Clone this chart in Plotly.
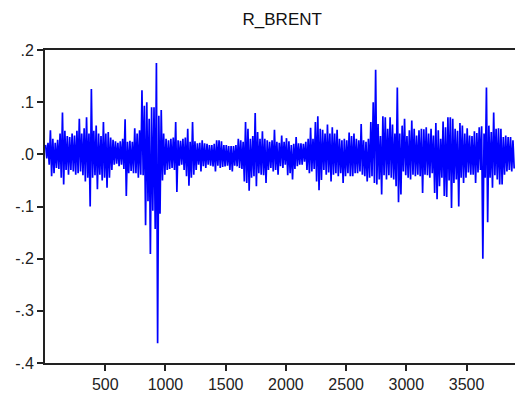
import plotly.graph_objects as go

bin_size = 20
hi = [.018, .022, .046, .030, .022, .028, .040, .080, .045, .035,
      .033, .040, .036, .045, .068, .040, .050, .071, .040, .125,
      .045, .055, .040, .035, .062, .040, .043, .032, .028, .025,
      .022, .025, .030, .067, .024, .026, .024, .050, .040, .046,
      .123, .093, .100, .068, .090, .090, .175, .074, .085, .040,
      .030, .027, .030, .032, .062, .027, .026, .030, .032, .049,
      .024, .062, .025, .021, .022, .027, .021, .020, .018, .018,
      .020, .027, .027, .025, .018, .018, .016, .016, .016, .018,
      .030, .027, .024, .062, .049, .030, .035, .079, .043, .030,
      .044, .030, .027, .024, .027, .047, .024, .022, .036, .024,
      .031, .025, .018, .020, .033, .021, .021, .020, .024, .030,
      .051, .030, .062, .073, .049, .047, .040, .057, .040, .052,
      .040, .047, .030, .027, .030, .027, .042, .035, .040, .030,
      .027, .058, .027, .024, .030, .062, .100, .162, .058, .035,
      .073, .071, .049, .071, .057, .040, .128, .040, .055, .068,
      .035, .046, .065, .049, .036, .046, .049, .048, .052, .040,
      .049, .036, .060, .046, .030, .063, .052, .071, .071, .068,
      .049, .045, .060, .055, .040, .050, .036, .035, .044, .041,
      .052, .054, .040, .128, .055, .043, .080, .049, .050, .049,
      .033, .036, .033, .033, .027]
lo = [-.008, -.020, -.042, -.036, -.026, -.028, -.045, -.058, -.030, -.039,
      -.030, -.033, -.039, -.036, -.033, -.040, -.052, -.045, -.100, -.045,
      -.040, -.067, -.039, -.050, -.045, -.064, -.045, -.030, -.020, -.018,
      -.023, -.020, -.028, -.080, -.036, -.032, -.036, -.036, -.045, -.039,
      -.040, -.136, -.090, -.191, -.108, -.143, -.362, -.114, -.050, -.039,
      -.030, -.028, -.026, -.030, -.072, -.022, -.020, -.030, -.042, -.060,
      -.045, -.039, -.030, -.020, -.033, -.023, -.026, -.020, -.022, -.023,
      -.033, -.022, -.026, -.024, -.023, -.022, -.030, -.033, -.022, -.023,
      -.026, -.028, -.052, -.055, -.070, -.045, -.042, -.061, -.036, -.039,
      -.040, -.055, -.030, -.026, -.033, -.030, -.039, -.023, -.026, -.020,
      -.040, -.036, -.048, -.028, -.023, -.020, -.020, -.014, -.030, -.036,
      -.033, -.028, -.052, -.069, -.049, -.030, -.039, -.035, -.052, -.039,
      -.036, -.042, -.036, -.055, -.042, -.036, -.042, -.042, -.036, -.036,
      -.033, -.039, -.042, -.052, -.045, -.042, -.055, -.058, -.048, -.077,
      -.040, -.048, -.040, -.045, -.048, -.061, -.092, -.077, -.033, -.040,
      -.045, -.048, -.039, -.042, -.039, -.042, -.074, -.039, -.040, -.045,
      -.036, -.074, -.086, -.061, -.045, -.080, -.082, -.050, -.103, -.055,
      -.048, -.100, -.045, -.055, -.045, -.035, -.039, -.039, -.055, -.035,
      -.030, -.200, -.045, -.130, -.045, -.064, -.040, -.048, -.058, -.058,
      -.039, -.033, -.030, -.033, -.027]

x_ticks = [500, 1000, 1500, 2000, 2500, 3000, 3500]
y_ticks = [-0.4, -0.3, -0.2, -0.1, 0.0, 0.1, 0.2]
y_labels = ["-.4", "-.3", "-.2", "-.1", ".0", ".1", ".2"]

xs, ys = [], []
for k in range(len(hi)):
    xs += [k * bin_size + 5, k * bin_size + 15]
    ys += [hi[k], lo[k]]

fig = go.Figure(go.Scatter(x=xs, y=ys, mode="lines",
                           line=dict(color="#0000FF", width=1.7), showlegend=False))

font = dict(family="Liberation Sans, Arial, sans-serif", size=16, color="#222222")
fig.update_layout(
    width=515, height=393,
    margin=dict(l=45, r=0, t=50, b=25),
    paper_bgcolor="white", plot_bgcolor="white",
    title=dict(text="R_BRENT", x=0.548, xanchor="center", y=0.952, yanchor="middle",
               font=dict(family="Liberation Sans, Arial, sans-serif", size=17, color="#111111")),
    xaxis=dict(range=[0, 3902], tickvals=x_ticks, ticks="outside", ticklen=6,
               tickwidth=1.5, tickcolor="#222222", showline=True, linecolor="#222222",
               linewidth=2, mirror=True, showgrid=False, zeroline=False, tickfont=font),
    yaxis=dict(range=[-0.4, 0.2], tickvals=y_ticks, ticktext=y_labels, ticks="outside",
               ticklen=6, tickwidth=1.5, tickcolor="#222222", showline=True,
               linecolor="#222222", linewidth=2, showgrid=False, zeroline=False,
               tickfont=font),
)
fig.write_html("out.html")
